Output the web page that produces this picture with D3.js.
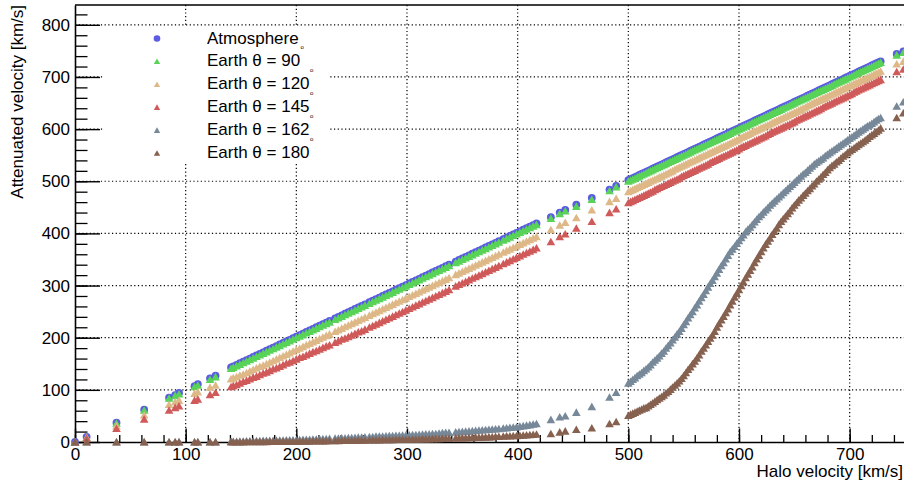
<!DOCTYPE html>
<html><head><meta charset="utf-8">
<script src="https://cdn.jsdelivr.net/npm/d3@7"></script>
<style>html,body{margin:0;padding:0;background:#fff;}svg{display:block;font-family:"Liberation Sans",Arial,Helvetica,sans-serif;}</style>
</head><body><svg id="c" width="904" height="481"></svg>
<script>
// ---- data ----
const halo = [0,10.5,37.5,62.5,85,90.5,94,108,111,122,127,
141,143,146,149,152,155,158,161,164,167,170,173,176,179,182,185,188,191,194,197,200,203,206,209,212,215,218,221,224,227,230,235,238,241,244,247,250,253,256,259,262,266,269,272,275,278,281,284,287,290,293,296,299,302,305,308,311,314,317,320,323,326,329,332,335,338,344,347,350,353,356,359,362,365,368,371,374,377,380,383,387,390,393,396,399,402,405,408,411,414,417,
430,438,443,453,467,483,489,
500,502,504,506,508,510,512,514,516,518,520,522,524,526,528,530,532,534,536,538,540,542,544,546,548,550,552,554,556,558,560,562,564,566,568,570,572,574,576,578,580,582,584,586,588,590,592,594,596,598,600,602,604,606,608,610,612,614,616,618,620,622,624,626,628,630,632,634,636,638,640,642,644,646,648,650,652,654,656,658,660,662,664,666,668,670,672,674,676,678,680,682,684,686,688,690,692,694,696,698,700,702,704,706,708,710,712,714,716,718,720,722,724,726,728,
742.5,748.5];

const atmosphere = [0,10,37,62,85,90,94,107,111,122,127,
143,145,148,151,154,157,160,163,166,169,172,175,178,181,184,187,190,193,196,199,202,205,208,211,214,217,220,223,226,229,232,237,240,243,246,249,252,255,258,261,264,268,271,274,277,280,283,286,289,292,295,298,301,304,307,310,313,316,319,322,325,328,331,334,337,340,346,349,352,355,358,361,364,367,370,373,376,379,382,385,389,392,395,398,401,404,407,410,413,416,419,
431,440,445,455,468,484,491,
502,504,506,508,510,512,514,516,518,520,522,524,526,528,530,532,534,536,538,540,542,544,546,548,550,552,554,556,558,560,562,564,566,568,570,572,574,576,578,580,582,584,586,588,590,592,594,596,598,600,602,604,606,608,610,612,614,616,618,620,622,624,626,628,630,632,634,636,638,640,642,644,646,648,650,652,654,656,658,660,662,664,666,668,670,672,674,676,678,680,682,684,686,688,690,692,694,696,698,700,702,704,706,708,710,712,714,716,718,720,722,724,726,728,730,
744,749];

const earth90 = [0,9,36,61,84,89,92,106,109,120,125,
141,143,146,149,152,155,158,161,164,167,170,173,176,179,182,185,188,191,194,197,200,203,206,209,212,215,218,221,224,227,230,235,238,241,244,247,250,253,256,259,262,266,269,272,275,278,281,284,287,290,293,296,299,302,305,308,311,314,317,320,323,326,329,332,335,338,344,347,350,353,356,359,362,365,368,371,374,377,380,383,387,390,393,396,399,402,405,408,411,414,417,
429,438,443,452,465,482,489,
500,502,504,506,508,510,512,514,516,518,520,522,524,526,528,530,532,534,536,538,540,542,544,546,548,550,552,554,556,558,560,562,564,566,568,570,572,574,576,578,580,582,584,586,588,590,592,594,596,598,600,602,604,606,608,610,612,614,616,618,620,622,624,626,628,630,632,634,636,638,640,642,644,646,648,650,652,654,656,658,660,662,664,666,668,670,672,674,676,678,680,682,684,686,688,690,692,694,696,698,700,702,704,706,708,710,712,714,716,718,720,722,724,726,728,
742,747];

const earth120 = [0,8.5,31,52,72,77,80,93,96,105,109,
121,123,125,128,130,133,136,139,142,145,147,150,153,156,159,162,165,168,171,174,177,180,183,186,189,192,195,198,201,204,207,212,215,218,221,224,227,230,233,236,239,243,246,249,252,255,258,261,264,267,270,273,276,279,282,285,288,291,294,297,300,303,306,309,312,315,321,324,327,330,333,336,339,342,345,348,351,354,357,360,364,367,370,373,376,379,382,385,388,391,394,
407,416,421,430,445,461,467,
480,482,484,486,488,490,492,494,496,498,500,502,504,506,508,510,512,514,516,518,520,523,525,527,529,531,533,535,537,539,541,543,545,547,549,551,553,555,557,559,561,563,565,567,569,571,573,575,577,579,581,584,586,588,590,592,594,596,598,600,602,604,606,608,610,612,614,616,618,620,622,624,626,628,630,632,634,636,638,640,642,645,647,649,651,653,655,657,659,661,663,665,667,669,671,673,675,677,679,681,683,685,687,689,691,693,695,697,699,701,703,705,707,709,711,
725,730];

const earth145 = [0,7,26,44,61,66,69,80,82,91,95,
106,108,110,113,116,118,121,124,126,129,132,134,137,140,142,145,148,151,153,156,159,162,164,167,170,173,175,178,181,184,186,191,194,197,199,202,205,208,211,213,216,220,223,226,229,232,235,238,241,244,247,250,253,256,259,262,265,268,271,274,277,280,283,286,289,292,299,302,305,308,311,314,317,320,323,326,329,332,335,338,342,345,348,351,354,357,360,363,366,369,372,
384,394,399,410,423,440,447,
459,461,463,465,467,469,471,473,475,477,479,481,484,486,488,490,492,494,496,498,500,502,504,506,509,511,513,515,517,519,521,523,525,527,529,531,533,536,538,540,542,544,546,548,550,552,554,556,558,560,562,565,567,569,571,573,575,577,579,581,583,585,587,590,592,594,596,598,600,602,604,606,608,610,612,614,617,619,621,623,625,627,629,631,633,635,637,639,642,644,646,648,650,652,654,656,658,660,662,664,666,668,671,673,675,677,679,681,683,685,687,689,691,693,695,
710,715];

const earth162 = [0,0,0,0,0,0,0,0,0,0,0,
1,1,1,1.5,1.5,2,2,2,2.5,2.5,3,3,3,3,3.5,3.5,3.5,4,4,4,4,4.5,5,5,5,5.5,5.5,6,6,6,6.5,7,7,7.5,7.5,8,8,8.5,9,9,9.5,10,10,11,11,11,11.5,12,12,12.5,12.5,13,13,13.5,14,14,14.5,15,15.5,15.5,16,16,17,17.5,18,18,19,19.5,20,20.5,21,21.5,22,22.5,23,23.5,24,24.5,25,25.5,26.5,27,28,28.5,29,30,31,32,33,34,35,
43,48,50,57,68,86,95,
113,116,120,123,127,130,133,137,140,144,148,153,157,161,165,170,174,180,185,190,196,201,207,212,218,225,231,238,244,250,257,263,270,277,283,290,297,304,310,317,324,331,338,344,351,358,365,370,375,381,386,392,397,403,408,412,417,422,427,432,436,441,445,449,454,458,462,466,470,474,478,482,486,490,494,498,502,506,510,514,517,521,525,529,533,536,539,542,545,549,552,555,558,561,564,567,570,573,576,579,582,585,588,591,594,597,600,603,606,608,611,614,617,620,622,
644,652];

const earth180 = [0,0,0,0,0,0,0,0,0,0,0,
0,0,0,0,0,0.5,0.5,0.5,0.5,0.5,0.5,0.5,1,1,1,1,1,1,1,1,1,1.5,1.5,1.5,1.5,2,2,2,2,2,2.5,2.5,2.5,3,3,3,3,3,3.5,3.5,3.5,4,4,4,4,4.5,4.5,4.5,4.5,5,5,5,5,5,5.5,5.5,5.5,6,6,6,6.5,6.5,6.5,7,7,7,7.5,8,8,8,8.5,8.5,9,9,9.5,9.5,10,10,10.5,10.5,11,11.5,11.5,12,12,12.5,13,13.5,14,14.5,15,
16,19,21,24,27,35,39,
51,53,55,57,59,61,63,65,66,69,72,75,78,81,84,87,90,94,97,101,105,109,113,117,122,127,133,139,144,150,155,161,167,174,180,186,193,199,205,212,220,227,234,241,248,255,263,270,278,285,292,300,307,315,322,329,336,344,351,358,365,372,379,385,391,398,404,410,417,423,428,433,438,443,449,454,459,464,468,473,477,482,486,491,495,500,504,508,513,517,522,526,530,533,537,540,544,548,551,555,558,561,564,567,570,573,576,579,582,586,589,592,595,598,602,
622,631];

const seriesLabels = ["Atmosphere", "Earth \u03b8 = 90", "Earth \u03b8 = 120", "Earth \u03b8 = 145", "Earth \u03b8 = 162", "Earth \u03b8 = 180"];
const seriesColors = ["#5b5be3", "#58d358", "#deb887", "#d05a5a", "#778899", "#86614f"];
const xTicks = [0,100,200,300,400,500,600,700];
const yTicks = [0,100,200,300,400,500,600,700,800];
const xTitle = "Halo velocity [km/s]";
const yTitle = "Attenuated velocity [km/s]";

// ---- drawing ----
const allSeries = [atmosphere, earth90, earth120, earth145, earth162, earth180];
const svg = d3.select("#c");
svg.append("rect").attr("width",904).attr("height",481).attr("fill","#fff");
const L=75, R=905, T=5, B=442;
const x = d3.scaleLinear().domain([0,750]).range([L,R]);
const y = d3.scaleLinear().domain([0,838]).range([B,T]);
const FS = "17px";

// grid
const grid = svg.append("g").attr("stroke","#000").attr("stroke-width",1.2).attr("stroke-dasharray","1.2,2.5");
grid.selectAll("line.v").data(xTicks.filter(d=>d>0)).join("line")
  .attr("x1",d=>x(d)).attr("x2",d=>x(d)).attr("y1",T).attr("y2",B);
grid.selectAll("line.h").data(yTicks.filter(d=>d>0)).join("line")
  .attr("x1",L).attr("x2",R).attr("y1",d=>y(d)).attr("y2",d=>y(d));

// minor ticks
svg.append("g").attr("transform",`translate(0,${B})`)
  .call(d3.axisBottom(x).tickValues(d3.range(0,751,20)).tickSize(-7).tickSizeOuter(0).tickFormat(""))
  .call(g=>g.select(".domain").remove())
  .call(g=>g.selectAll("line").attr("stroke-width",1.3));
svg.append("g").attr("transform",`translate(${L},0)`)
  .call(d3.axisLeft(y).tickValues(d3.range(0,839,20)).tickSize(-12.5).tickSizeOuter(0).tickFormat(""))
  .call(g=>g.select(".domain").remove())
  .call(g=>g.selectAll("line").attr("stroke-width",1.3));

// major axes
const xa = svg.append("g").attr("transform",`translate(0,${B})`)
  .call(d3.axisBottom(x).tickValues(xTicks).tickSize(-13.5).tickSizeOuter(0).tickPadding(6));
const ya = svg.append("g").attr("transform",`translate(${L},0)`)
  .call(d3.axisLeft(y).tickValues(yTicks).tickSize(-25).tickSizeOuter(0).tickPadding(5));
[xa,ya].forEach(a=>{
  a.attr("font-family",null).attr("font-size",null);
  a.selectAll("text").attr("font-size",FS).attr("fill","#000");
  a.selectAll("line").attr("stroke-width",1.4);
  a.select(".domain").attr("stroke-width",1.6);
});
// frame top / right
svg.append("path").attr("d",`M${L},${T}H${R}V${B}`).attr("fill","none").attr("stroke","#000").attr("stroke-width",1.3);

// titles
svg.append("text").attr("x",903).attr("y",477).attr("text-anchor","end").attr("font-size",FS).text(xTitle);
svg.append("text").attr("transform","translate(23,5) rotate(-90)").attr("text-anchor","end").attr("font-size",FS).text(yTitle);

// points
const tri = "M0,-4L4.3,3.6L-4.3,3.6Z";
allSeries.forEach((vals,si)=>{
  const n = Math.min(vals.length, halo.length);
  const pts = d3.range(n).map(i=>[halo[i], vals[i]]);
  const g = svg.append("g").attr("fill",seriesColors[si]);
  if(si===0){
    g.selectAll("circle").data(pts).join("circle")
      .attr("cx",d=>x(d[0])).attr("cy",d=>y(d[1])).attr("r",3.9);
  } else {
    g.selectAll("path").data(pts).join("path")
      .attr("d",tri).attr("transform",d=>`translate(${x(d[0])},${y(d[1])})`);
  }
});

// legend
const lg = svg.append("g");
lg.append("rect").attr("x",104).attr("y",27).attr("width",226).attr("height",136).attr("fill","#fff");
seriesLabels.forEach((lab,i)=>{
  const cy = 38.5 + i*22.95;
  if(i===0){
    lg.append("circle").attr("cx",157).attr("cy",cy).attr("r",3.3).attr("fill",seriesColors[i]);
  } else {
    lg.append("path").attr("d","M0,-3L3.2,2.6L-3.2,2.6Z").attr("transform",`translate(157,${cy})`).attr("fill",seriesColors[i]);
  }
  const t = lg.append("text").attr("x",207).attr("y",cy+5).attr("font-size",FS).text(lab);
  if(i>0){
    t.append("tspan").attr("font-size","6px").attr("dx",0.5).attr("dy",-17.4).text("o");
  }
});
</script></body></html>
